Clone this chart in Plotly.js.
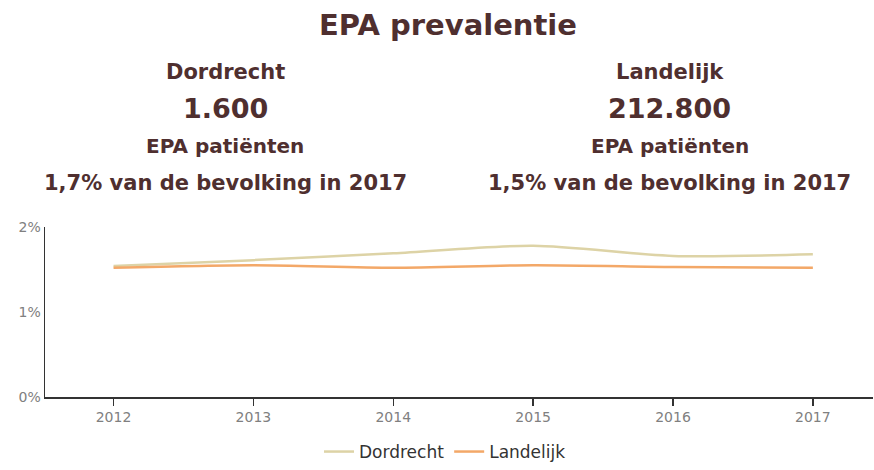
<!DOCTYPE html>
<html>
<head>
<meta charset="utf-8">
<script src="https://cdn.plot.ly/plotly-3.0.1.min.js"></script>
<style>html,body{margin:0;padding:0;background:#fff;}#chart{width:874px;height:470px;}</style>
</head>
<body>
<div id="chart"></div>
<script>
var years = [2012, 2013, 2014, 2015, 2016, 2017];
var dordrecht = [1.54, 1.61, 1.69, 1.78, 1.66, 1.68];
var landelijk = [1.52, 1.55, 1.52, 1.55, 1.53, 1.52];
var seriesNames = ['Dordrecht', 'Landelijk'];
var yTickVals = [0, 1, 2];
var yTickText = ['0%', '1%', '2%'];
var chartTitle = 'EPA prevalentie';
var blockLeft = ['Dordrecht', '1.600', 'EPA patiënten', '1,7% van de bevolking in 2017'];
var blockRight = ['Landelijk', '212.800', 'EPA patiënten', '1,5% van de bevolking in 2017'];

var brown = '#4f2f2f';
var font = 'DejaVu Sans, sans-serif';

var traces = [
  {x: years, y: dordrecht, name: seriesNames[0], type: 'scatter', mode: 'lines',
   line: {color: '#ddd3a6', width: 2.5, shape: 'spline', smoothing: 0.8}},
  {x: years, y: landelijk, name: seriesNames[1], type: 'scatter', mode: 'lines',
   line: {color: '#f3a868', width: 2.5, shape: 'spline', smoothing: 0.8}}
];

var rowsY = [1.912, 1.70, 1.476, 1.259];
var rowSizes = [21, 27, 20, 21];
var annotations = [];
[[blockLeft, 0.2174], [blockRight, 0.7548]].forEach(function (b) {
  b[0].forEach(function (t, i) {
    annotations.push({text: '<b>' + t + '</b>', x: b[1], y: rowsY[i], xref: 'paper', yref: 'paper',
      xanchor: 'center', yanchor: 'middle', showarrow: false,
      font: {family: font, size: rowSizes[i], color: brown}});
  });
});

var layout = {
  width: 874, height: 470,
  margin: {l: 45, r: 1, t: 227, b: 73},
  paper_bgcolor: '#fff', plot_bgcolor: '#fff',
  title: {text: '<b>' + chartTitle + '</b>', x: 448 / 874, xanchor: 'center', y: 1 - 25 / 470, yanchor: 'middle',
    font: {family: font, size: 29, color: brown}},
  xaxis: {range: [2011.51, 2017.43], tickvals: years, showgrid: false, zeroline: false,
    showline: true, linecolor: '#333', linewidth: 1.5, ticks: 'outside', ticklen: 7, tickcolor: '#333', tickwidth: 1.5,
    tickfont: {family: font, size: 14, color: '#808080'}},
  yaxis: {range: [0, 2], tickvals: yTickVals, ticktext: yTickText, showgrid: false, zeroline: false,
    showline: true, linecolor: '#333', linewidth: 1.5, ticks: '',
    tickfont: {family: font, size: 14, color: '#808080'}},
  showlegend: true,
  legend: {orientation: 'h', xref: 'container', yref: 'container', x: 445 / 874, xanchor: 'center',
    y: 0, yanchor: 'bottom', font: {family: font, size: 17, color: '#333'},
    itemwidth: 30, tracegroupgap: 0},
  annotations: annotations
};

Plotly.newPlot('chart', traces, layout, {displayModeBar: false, staticPlot: true});
</script>
</body>
</html>
